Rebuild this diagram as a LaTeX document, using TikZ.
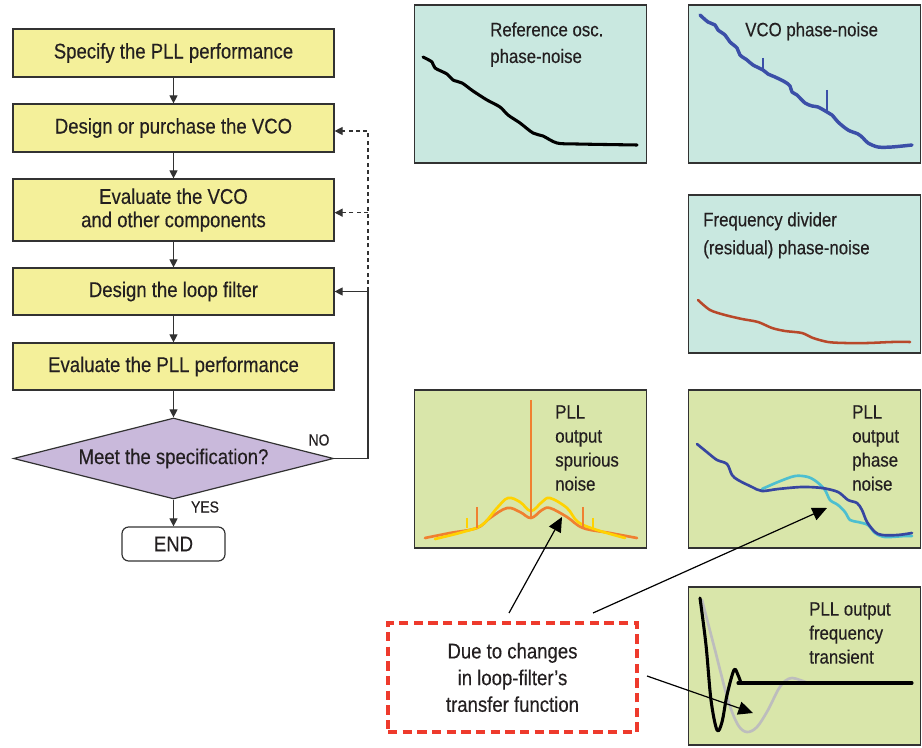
\documentclass[tikz,border=0pt]{standalone}
\usepackage{fontspec}
\setmainfont{Liberation Sans}[FakeStretch=0.87,FakeBold=0.3]
\usetikzlibrary{shapes.geometric,arrows.meta}
\definecolor{boxy}{RGB}{244,240,154}
\definecolor{purp}{RGB}{201,185,219}
\definecolor{cyanp}{RGB}{201,232,224}
\definecolor{greenp}{RGB}{217,230,170}
\definecolor{edge}{RGB}{50,50,50}
\definecolor{txt}{RGB}{35,31,32}
\definecolor{bluec}{RGB}{59,79,168}
\definecolor{dblue}{RGB}{55,70,160}
\definecolor{lcyan}{RGB}{77,191,208}
\definecolor{brown}{RGB}{184,72,42}
\definecolor{orng}{RGB}{240,128,48}
\definecolor{yell}{RGB}{255,210,0}
\definecolor{grayc}{RGB}{189,189,189}
\definecolor{redc}{RGB}{238,58,44}
\begin{document}
\begin{tikzpicture}[x=0.75pt,y=-0.75pt,
  box/.style={draw=edge, fill=boxy, line width=0.9pt, minimum width=321*0.75pt, inner sep=0pt, align=center, text=txt, font=\fontsize{16}{17.5}\selectfont},
  flow/.style={draw=edge, line width=0.9pt, -{Triangle[length=6pt,width=6pt]}},
  flowd/.style={flow, dashed, dash pattern=on 3pt off 2.5pt},
  panelc/.style={draw=edge, fill=cyanp, line width=1.1pt, minimum width=232*0.75pt, minimum height=158*0.75pt, inner sep=0pt},
  panelg/.style={draw=edge, fill=greenp, line width=1.1pt, minimum width=232*0.75pt, minimum height=158*0.75pt, inner sep=0pt},
  lbl/.style={anchor=north west, inner sep=0pt, align=left, text=txt},
  crv/.style={line width=2.3pt, line cap=round, line join=round},
  bigarrow/.style={draw=black, line width=0.9pt, -{Triangle[length=11pt,width=10pt]}}
]
\useasboundingbox (0,0) rectangle (922,748);

% ---------------- flowchart ----------------
\node[box, minimum height=48*0.75pt] (b1) at (173.5,53) {Specify the PLL performance};
\node[box, minimum height=48*0.75pt] (b2) at (173.5,128) {Design or purchase the VCO};
\node[box, minimum height=62*0.75pt] (b3) at (173.5,210) {Evaluate the VCO\\and other components};
\node[box, minimum height=47*0.75pt] (b4) at (173.5,291.5) {Design the loop filter};
\node[box, minimum height=47*0.75pt] (b5) at (173.5,366.5) {Evaluate the PLL performance};
\node[draw=edge, fill=purp, line width=0.9pt, diamond, aspect=4, inner sep=0pt,
      minimum width=320*0.75pt, minimum height=81*0.75pt, text=txt,
      font=\fontsize{16}{17.5}\selectfont] (dia) at (173.5,458.5) {Meet the specification?};
\node[draw=edge, line width=0.9pt, rounded corners=5pt, minimum width=103*0.75pt,
      minimum height=34*0.75pt, inner sep=0pt, text=txt,
      font=\fontsize{16}{17.5}\selectfont] (endn) at (173.5,544) {END};

\draw[flow] (b1) -- (b2);
\draw[flow] (b2) -- (b3);
\draw[flow] (b3) -- (b4);
\draw[flow] (b4) -- (b5);
\draw[flow] (b5) -- (dia);
\draw[flow] (dia) -- (endn);

\coordinate (fb) at (368,458.5);
\draw[flow] (dia.east) -- (fb) |- (b4.east);
\draw[flowd] (b4.east -| fb) |- ([yshift=-2.25pt]b2.east);
\draw[flowd] ([yshift=-2pt]b3.east -| fb) -- ([yshift=-2pt]b3.east);

\node[text=txt, font=\fontsize{12}{13}\selectfont, inner sep=0pt] (no) at (319,440) {NO};
\node[text=txt, font=\fontsize{12}{13}\selectfont, inner sep=0pt] (yes) at (205,507) {YES};

% ---------------- panels ----------------
\node[panelc] (pA) at (530.5,84) {};
\node[panelc] (pB) at (804.5,84) {};
\node[panelc] (pC) at (804.5,274) {};
\node[panelg] (pD) at (530.5,469) {};
\node[panelg] (pE) at (804.5,469) {};
\node[panelg] (pF) at (804.5,666) {};

\node[lbl, font=\fontsize{14.5}{20}\selectfont] (tA) at (490,22) {Reference osc.\\phase-noise};
\node[lbl, font=\fontsize{14.5}{20}\selectfont] (tB) at (745,22) {VCO phase-noise};
\node[lbl, font=\fontsize{14.5}{21}\selectfont] (tC) at (703,212) {Frequency divider\\(residual) phase-noise};
\node[lbl, font=\fontsize{14.5}{18}\selectfont] (tD) at (555,405) {PLL\\output\\spurious\\noise};
\node[lbl, font=\fontsize{14.5}{18}\selectfont] (tE) at (852,405) {PLL\\output\\phase\\noise};
\node[lbl, font=\fontsize{14.5}{18}\selectfont] (tF) at (809,602) {PLL output\\frequency\\transient};

% panel A curve
\draw[crv, black] plot[smooth, tension=0.5] coordinates {(423,57) (432,62) (435,68) (447,74) (453,80) (462,83) (473,91) (487,100) (500,107) (508,115) (520,123) (533,133) (543,136) (557,143) (577,144) (637,145)};

% panel B curve
\draw[crv, bluec, line width=2.6pt] plot[smooth, tension=0.5] coordinates {(700,15) (708,22) (715,25) (718,30) (725,35) (730,42) (737,48) (740,55) (747,60) (753,65) (763,70) (768,74) (775,77) (785,82) (790,86) (792,92) (797,95) (805,103) (812,106) (818,107) (827,112) (832,115) (838,122) (848,130) (858,134) (863,138) (868,143) (878,147) (892,147) (912,145)};
\draw[bluec, line width=1.6pt] (763,58) -- (763,70);
\draw[bluec, line width=1.6pt] (827,90) -- (827,112);

% panel C curve
\draw[crv, brown, line width=1.9pt] plot[smooth, tension=0.5] coordinates {(698,300) (710,310) (725,315) (742,319) (758,322) (772,328) (785,331) (802,333) (813,338) (828,342) (845,343) (868,343) (892,342) (910,342)};

% panel D curves
\draw[crv, orng, line width=2pt] plot[smooth, tension=0.6] coordinates {(425,538) (450,533) (477,528) (490,518) (507,508) (520,512) (531,518) (542,510) (550,508) (567,517) (583,528) (610,533) (637,538)};
\draw[crv, yell, line width=2pt] plot[smooth, tension=0.6] coordinates {(435,539) (463,532) (482,525) (497,508) (508,498) (520,502) (531,511) (542,502) (550,498) (567,508) (578,522) (597,530) (625,538)};
\draw[orng, line width=1.8pt] (530.7,400) -- (530.7,517);
\draw[orng, line width=1.6pt] (477,507) -- (477,528);
\draw[orng, line width=1.6pt] (583,507) -- (583,528);
\draw[yell, line width=1.6pt] (467,518) -- (467,528);
\draw[yell, line width=1.6pt] (593,518) -- (593,528);

% panel E curves
\draw[crv, lcyan, line width=2pt] plot[smooth, tension=0.5] coordinates {(762,489) (778,482) (795,476) (808,477) (817,482) (825,490) (830,500) (838,505) (845,512) (850,520) (858,522) (868,525) (875,533) (885,537) (905,536) (912,536)};
\draw[crv, dblue, line width=2pt] plot[smooth, tension=0.5] coordinates {(697,444) (708,453) (717,460) (727,464) (732,475) (738,480) (752,487) (762,491) (778,489) (802,487) (822,488) (838,492) (848,500) (857,503) (862,510) (867,522) (875,532) (882,535) (898,535) (912,533)};

% panel F curves
\draw[crv, grayc, line width=2pt] plot[smooth, tension=0.55] coordinates {(702,600) (715,650) (728,700) (738,725) (747,732) (757,727) (768,710) (778,690) (785,681) (792,678) (800,680) (808,683)};
\draw[crv, black, line width=2.3pt] plot[smooth, tension=0.55] coordinates {(700,598) (706,645) (711,700) (717,730) (722,722) (727,695) (734,670) (738,675) (741,683)};
\draw[crv, black, line width=2.3pt] (738,683) -- (912,683);

% ---------------- callout ----------------
\node[draw=redc, line width=2.3pt, dash pattern=on 7pt off 4pt, minimum width=249*0.75pt,
      minimum height=109*0.75pt, inner sep=0pt, align=center, text=txt,
      font=\fontsize{16}{20}\selectfont] (callout) at (512.5,677.5) {Due to changes\\in loop-filter’s\\transfer function};

\coordinate (s1) at (509,613);
\coordinate (s2) at (593,613);
\coordinate (s3) at (647,676);
\coordinate (t1) at (562,517);
\coordinate (t2) at (827,508);
\coordinate (t3) at (753,713);
\draw[bigarrow] (s1) -- (t1);
\draw[bigarrow] (s2) -- (t2);
\draw[bigarrow] (s3) -- (t3);
\end{tikzpicture}
\end{document}
